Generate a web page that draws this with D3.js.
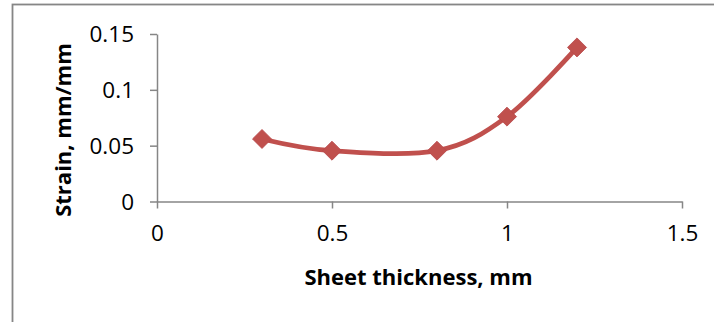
<!DOCTYPE html>
<html>
<head>
<meta charset="utf-8">
<script src="https://cdn.jsdelivr.net/npm/d3@7"></script>
<style>
  html, body { margin: 0; padding: 0; background: #fff; }
  svg { display: block; }
</style>
</head>
<body>
<svg id="chart" width="714" height="322"></svg>
<script>
// Measured strain for each sheet thickness
const thickness = [0.3, 0.5, 0.8, 1.0, 1.2];
const strain = [0.056, 0.0455, 0.0455, 0.076, 0.138];
const xTicks = [0, 0.5, 1, 1.5];
const yTicks = [0, 0.05, 0.1, 0.15];
const xTitle = "Sheet thickness, mm";
const yTitle = "Strain, mm/mm";

const svg = d3.select("#chart");
const W = 714, H = 322;
const plot = { left: 157, right: 682, top: 34, bottom: 201.5 };
const axisColor = "#868686";
const seriesColor = "#C0504D";
const font = "'Open Sans', sans-serif";

// Outer chart-area frame (runs off the right and bottom of the view)
svg.append("rect")
  .attr("x", 12.5).attr("y", 4.5)
  .attr("width", W + 20).attr("height", H + 20)
  .attr("fill", "none")
  .attr("stroke", axisColor)
  .attr("stroke-width", 1.8);

const x = d3.scaleLinear().domain([0, 1.5]).range([plot.left, plot.right]);
const y = d3.scaleLinear().domain([0, 0.15]).range([plot.bottom, plot.top]);

// Y axis
const yAxis = svg.append("g")
  .attr("transform", `translate(${plot.left},0)`)
  .call(d3.axisLeft(y).tickValues(yTicks).tickSize(7).tickSizeOuter(0)
    .tickFormat(d => d3.format("")(+d.toFixed(2))));
// X axis
const xAxis = svg.append("g")
  .attr("transform", `translate(0,${plot.bottom})`)
  .call(d3.axisBottom(x).tickValues(xTicks).tickSize(7).tickSizeOuter(0)
    .tickFormat(d => String(d)));

[yAxis, xAxis].forEach(g => {
  g.select(".domain").attr("stroke", axisColor).attr("stroke-width", 1.5);
  g.selectAll(".tick line").attr("stroke", axisColor).attr("stroke-width", 1.5);
  g.selectAll(".tick text")
    .attr("fill", "#000")
    .style("font-family", font)
    .style("font-size", "22.5px");
});
yAxis.selectAll(".tick text").attr("x", -23).attr("dy", "0.34em");
xAxis.selectAll(".tick text").attr("y", 23).attr("dy", "0.75em");

// Axis titles
svg.append("text")
  .attr("x", (plot.left + plot.right) / 2 - 1)
  .attr("y", 285)
  .attr("text-anchor", "middle")
  .style("font-family", font)
  .style("font-weight", "bold")
  .style("font-size", "22px")
  .text(xTitle);

svg.append("text")
  .attr("transform", "translate(71,130) rotate(-90)")
  .attr("text-anchor", "middle")
  .style("font-family", font)
  .style("font-weight", "bold")
  .style("font-size", "22px")
  .text(yTitle);

// Smoothed series line
const pts = thickness.map((t, i) => [t, strain[i]]);
const line = d3.line()
  .x(d => x(d[0])).y(d => y(d[1]))
  .curve(d3.curveCardinal.tension(0));
svg.append("path")
  .datum(pts)
  .attr("d", line)
  .attr("fill", "none")
  .attr("stroke", seriesColor)
  .attr("stroke-width", 4.8)
  .attr("stroke-linejoin", "round");

// Diamond markers
svg.selectAll("path.marker")
  .data(pts)
  .enter().append("path")
  .attr("class", "marker")
  .attr("d", d3.symbol().type(d3.symbolSquare).size(180))
  .attr("transform", d => `translate(${x(d[0])},${y(d[1])}) rotate(45)`)
  .attr("fill", seriesColor)
  .attr("stroke", "#B8484A")
  .attr("stroke-width", 0.8);
</script>
</body>
</html>
